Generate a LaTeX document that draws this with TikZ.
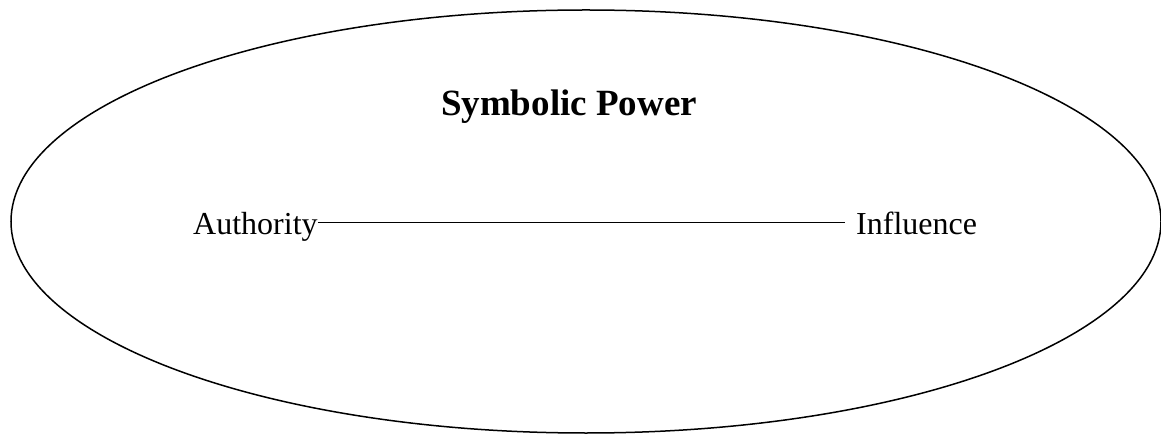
\documentclass[tikz,border=0pt]{standalone}
\usepackage{fontspec}
\setmainfont{Liberation Serif}
\begin{document}
\begin{tikzpicture}[x=1pt,y=-1pt,
  lbl/.style={inner sep=0pt, anchor=base west, font=\fontsize{32}{38}\selectfont},
  ttl/.style={inner sep=0pt, anchor=base, font=\bfseries\fontsize{37}{44}\selectfont},
  ln/.style={line width=1.5pt, black}]
\useasboundingbox (0,0) rectangle (1161,435);
\draw[ln] (586,221.5) ellipse [x radius=575, y radius=211.5];
\node[ttl] (title) at (569,116) {Symbolic Power};
\node[lbl] (auth) at (193,235) {Authority};
\node[lbl] (infl) at (856,235) {Influence};
\draw[ln] ([yshift=12.5]auth.base east) -- ([xshift=-11,yshift=12.5]infl.base west);
\end{tikzpicture}
\end{document}
